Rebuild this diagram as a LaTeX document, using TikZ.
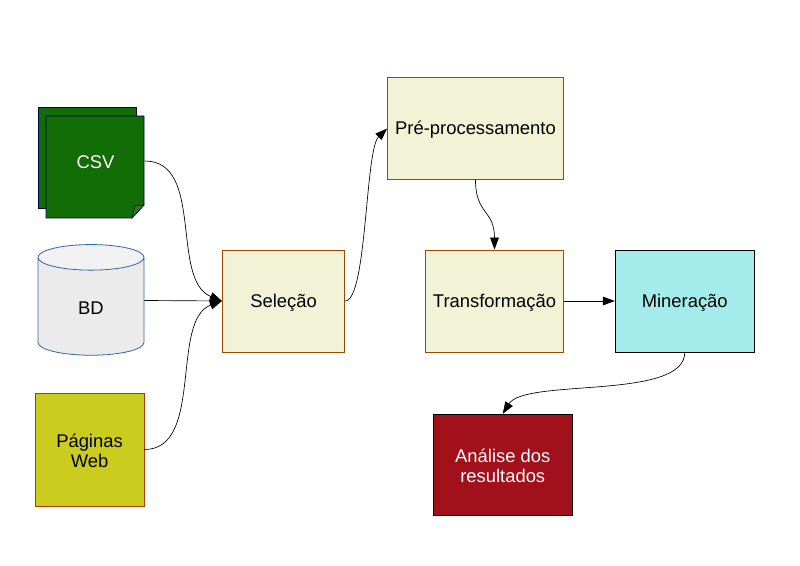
\documentclass[tikz,border=0pt]{standalone}
\usepackage{fontspec}
\setmainfont{Liberation Sans}
\usetikzlibrary{arrows.meta,shapes.geometric,calc}
\definecolor{creamfill}{HTML}{F2F2D6}
\definecolor{rustline}{HTML}{9C4A00}
\definecolor{aquafill}{HTML}{A3ECEB}
\definecolor{winefill}{HTML}{A1101B}
\definecolor{leaffill}{HTML}{126D07}
\definecolor{foldfill}{HTML}{2F7A28}
\definecolor{navyline}{HTML}{000050}
\definecolor{olivefill}{HTML}{CCCC1E}
\definecolor{dbline}{HTML}{3465A4}
\tikzset{
	boxfont/.style={font=\fontsize{13.8}{15.5}\selectfont,text height=12pt},
	box/.style={rectangle,draw=rustline,fill=creamfill,line width=0.6pt,inner sep=0pt,boxfont,align=center},
	twolines/.style={text height={}},
	sheet/.style={fill=leaffill,draw=navyline,line width=0.6pt},
	conn/.style={-{Triangle[length=9pt,width=6.5pt]},line width=0.5pt},
}

\begin{document}
\begin{tikzpicture}[x=0.75pt,y=-0.75pt]
	\useasboundingbox (0,0) rectangle (800,566);
	% sources
	\draw[sheet] (38,107) rectangle (136,208);
	\draw[sheet] (46,116) -- (144,116) -- (144,205) -- (132,218) -- (46,218) -- cycle;
	\draw[sheet,fill=foldfill,line width=0.4pt] (144,205) -- (135,206) -- (132,218) -- cycle;
	\node[boxfont,text=white,minimum width=73.5pt,inner sep=0pt] (csv) at (95.5,161) {CSV};
	\node[cylinder,shape border rotate=90,aspect=1,draw=dbline,line width=0.6pt,cylinder uses custom fill,cylinder body fill=black!8,cylinder end fill=black!5,minimum width=79.5pt,minimum height=83pt,inner sep=0pt,boxfont] (bd) at (91,306.5) {BD};
	\node[box,twolines,fill=olivefill,draw=rustline!80!red,minimum width=81.75pt,minimum height=84.75pt] (web) at (89.5,449.5) {\rule{0pt}{12pt}Páginas\\Web};
	% pipeline
	\node[box,minimum width=91.75pt,minimum height=76.5pt] (selecao) at (283.5,301) {Seleção};
	\node[box,minimum width=132pt,minimum height=76.5pt] (preproc) at (475.5,128.5) {Pré-processamento};
	\node[box,minimum width=104pt,minimum height=76.5pt] (transf) at (494.5,301) {Transformação};
	\node[box,draw=black,fill=aquafill,minimum width=104.25pt,minimum height=76.5pt] (miner) at (684.75,301) {Mineração};
	\node[box,twolines,draw=black,fill=winefill,text=white,minimum width=104.25pt,minimum height=75.75pt] (analise) at (502.75,464.75) {\rule{0pt}{12pt}Análise dos\\resultados};
	% connectors
	\draw[conn] (csv.east) .. controls +(60,0) and (170,280) .. (selecao.west);
	\draw[conn] ([yshift=4.5pt]bd.east) -- (selecao.west);
	\draw[conn] (web.east) .. controls +(60,0) and (170,320) .. (selecao.west);
	\draw[conn] (selecao.east) .. controls +(22,0) and (365,150) .. (preproc.west);
	\draw[conn] (preproc.south) .. controls +(0,35) and +(0,-40) .. (transf.north);
	\draw[conn] (transf.east) -- (miner.west);
	\draw[conn] (miner.south) .. controls +(0,48) and (525,378) .. (analise.north);
\end{tikzpicture}
\end{document}
